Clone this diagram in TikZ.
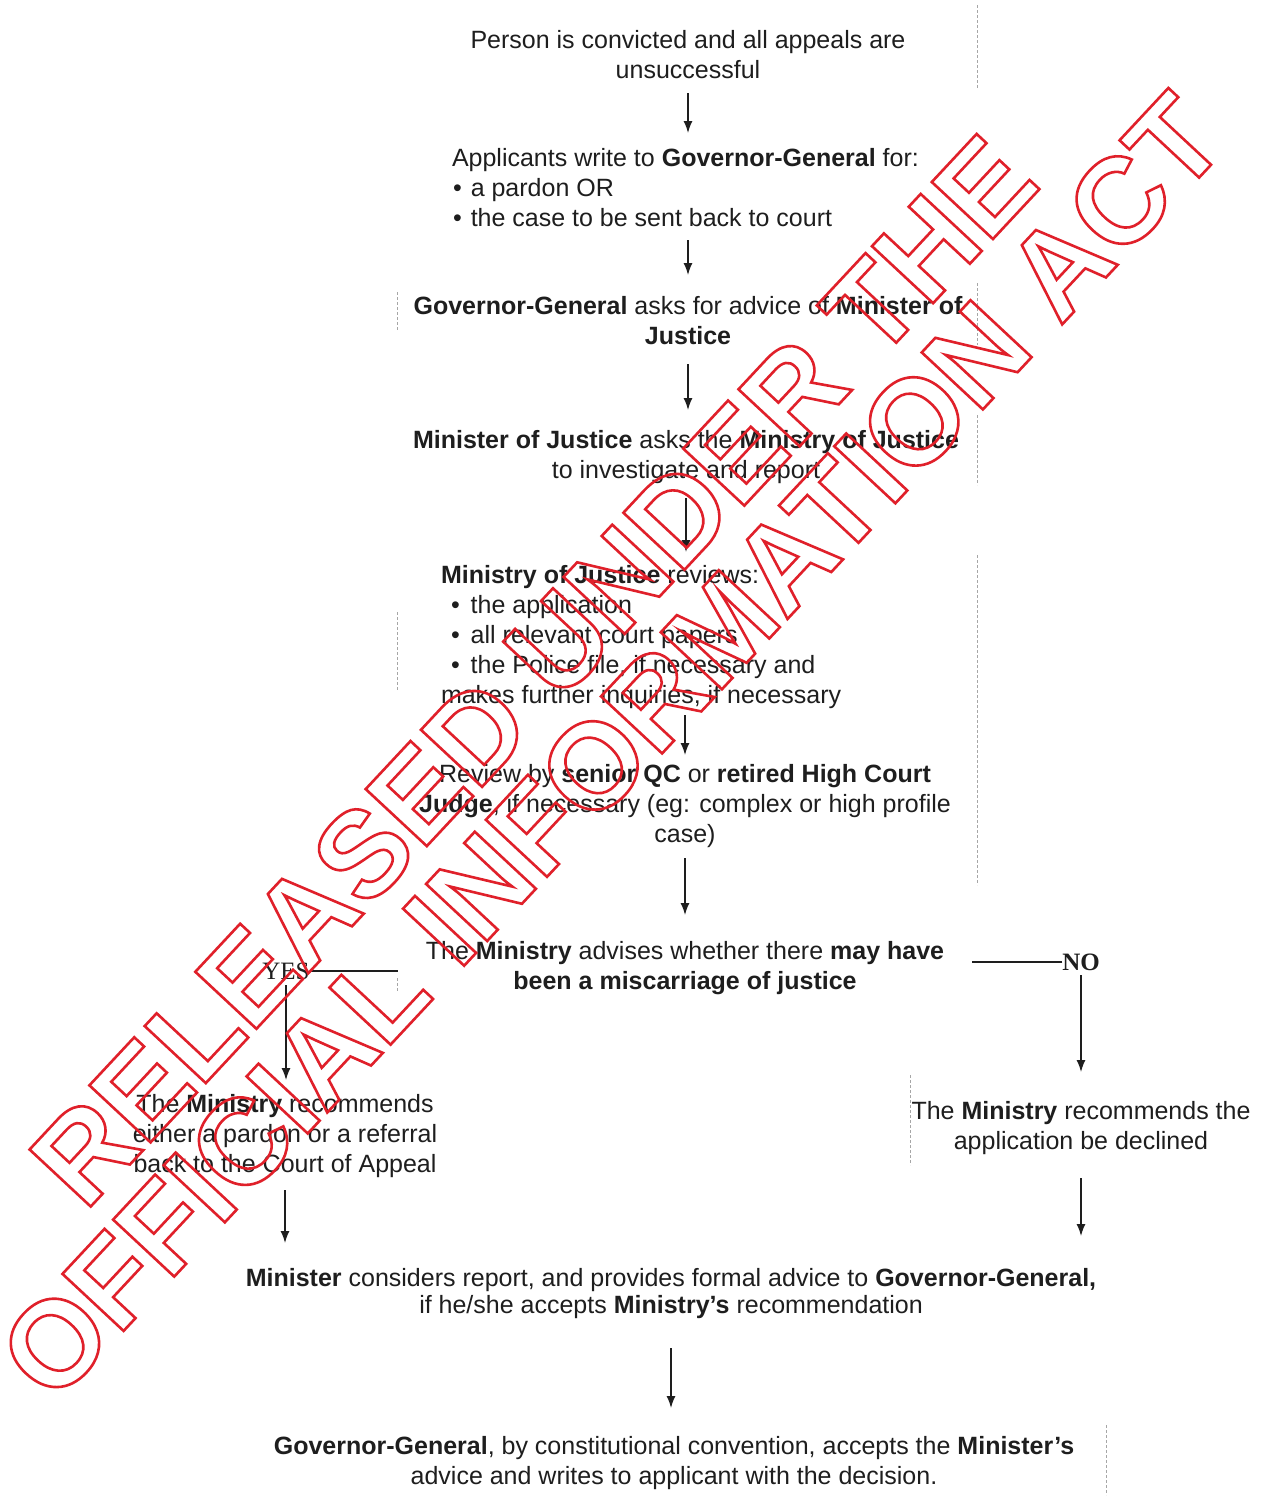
\documentclass[tikz,border=0pt]{standalone}
\usepackage{fontspec}
\setmainfont{Liberation Sans}
\newfontfamily\ynfont{Liberation Serif}
\usetikzlibrary{arrows.meta}
\definecolor{ink}{HTML}{1E1E1E}
\definecolor{stampred}{HTML}{E0202A}
\newcommand{\outlinetext}[1]{\special{pdf:literal direct 1 Tr 2.6 w}#1\special{pdf:literal direct 0 Tr}}
\begin{document}
\begin{tikzpicture}[x=1pt,y=-1pt,
  txt/.style={inner sep=0pt, outer sep=0pt, text=ink, font=\fontsize{25}{30}\selectfont},
  ctr/.style={txt, align=center, anchor=north},
  lft/.style={txt, align=left, anchor=north west},
  arr/.style={draw=ink, line width=1.4pt, -{Latex[length=12pt,width=9pt]}},
  lnk/.style={draw=ink, line width=1.2pt},
  scan/.style={draw=gray!70, line width=0.8pt, dash pattern=on 3pt off 2pt},
  stamp/.style={anchor=base, rotate=47, inner sep=0pt, text=stampred, font=\fontsize{121.5}{121.5}\selectfont\bfseries}
]
\useasboundingbox (0,0) rectangle (1271,1505);
\fill[white] (0,0) rectangle (1271,1505);

% scan remnants
\draw[scan] (977,5) -- (977,88);
\draw[scan] (977,283) -- (977,345);
\draw[scan] (977,415) -- (977,485);
\draw[scan] (977,555) -- (977,885);
\draw[scan] (397,292) -- (397,330);
\draw[scan] (397,612) -- (397,690);
\draw[scan] (397,978) -- (397,992);
\draw[scan] (910,1075) -- (910,1165);
\draw[scan] (1106,1425) -- (1106,1495);

% nodes
\node[ctr] (n1) at (688,27) {\strut Person is convicted and all appeals are\\unsuccessful\strut};
\node[lft] (n2) at (452,145) {\strut Applicants write to \textbf{Governor-General} for:\\
  \hspace*{1pt}•\hspace{9pt}a pardon OR\\
  \hspace*{1pt}•\hspace{9pt}the case to be sent back to court\strut};
\node[ctr] (n3) at (688,293) {\strut\textbf{Governor-General} asks for advice of \textbf{Minister of}\\\textbf{Justice}\strut};
\node[ctr] (n4) at (686,427) {\strut\textbf{Minister of Justice} asks the \textbf{Ministry of Justice}\\to investigate and report\strut};
\node[lft] (n5) at (441,562) {\strut\textbf{Ministry of Justice} reviews:\\
  \hspace*{10pt}•\hspace{11pt}the application\\
  \hspace*{10pt}•\hspace{11pt}all relevant court papers\\
  \hspace*{10pt}•\hspace{11pt}the Police file, if necessary and\\
  makes further inquiries, if necessary\strut};
\node[ctr] (n6) at (685,761) {\strut Review by \textbf{senior QC} or \textbf{retired High Court}\\\textbf{Judge}, if necessary (eg: complex or high profile\\case)\strut};
\node[ctr] (n7) at (685,938) {\strut The \textbf{Ministry} advises whether there \textbf{may have}\\\textbf{been a miscarriage of justice}\strut};
\node[txt, font=\fontsize{25}{30}\selectfont\ynfont] (yes) at (286,971) {YES};
\node[txt, font=\fontsize{25}{30}\selectfont\ynfont\bfseries] (no) at (1081,962) {NO};
\node[ctr] (n8l) at (285,1091) {\strut The \textbf{Ministry} recommends\\either a pardon or a referral\\back to the Court of Appeal\strut};
\node[ctr] (n8r) at (1081,1098) {\strut The \textbf{Ministry} recommends the\\application be declined\strut};
\node[ctr, font=\fontsize{25}{27}\selectfont] (n9) at (671,1268) {\strut\textbf{Minister} considers report, and provides formal advice to \textbf{Governor-General,}\\if he/she accepts \textbf{Ministry’s} recommendation\strut};
\node[ctr] (n10) at (674,1433) {\strut\textbf{Governor-General}, by constitutional convention, accepts the \textbf{Minister’s}\\advice and writes to applicant with the decision.\strut};

% connectors
\draw[arr, shorten <=6pt, shorten >=12pt] (n1.south) -- (n1.south |- n2.north);
\draw[arr, shorten <=5pt, shorten >=18pt] (n2.south -| n3.north) -- (n3.north);
\draw[arr, shorten <=11pt, shorten >=17pt] (n3.south) -- (n3.south |- n4.north);
\draw[arr, shorten <=11pt, shorten >=10pt] (n4.south) -- (n4.south |- n5.north);
\draw[arr, shorten <=3pt, shorten >=6pt] (n6.north |- n5.south) -- (n6.north);
\draw[arr, shorten <=7pt, shorten >=23pt] (n6.south) -- (n6.south |- n7.north);
\draw[lnk, shorten >=28pt] (yes.east) -- (yes.east -| n7.west);
\draw[arr, shorten <=6pt, shorten >=11pt] (yes.south) -- (yes.south |- n8l.north);
\draw[lnk, shorten >=28pt] (no.west) -- (no.west -| n7.east);
\draw[arr, shorten <=5pt, shorten >=26pt] (no.south) -- (no.south |- n8r.north);
\draw[arr, shorten <=9pt, shorten >=25pt] (n8l.south) -- (n8l.south |- n9.north);
\draw[arr, shorten <=20pt, shorten >=32pt] (n8r.south) -- (n8r.south |- n9.north);
\draw[arr, shorten <=26pt, shorten >=25pt] (n9.south) -- (n9.south |- n10.north);

% stamp
\node[stamp] (stamp1) at (564,699) {\outlinetext{RELEASED UNDER THE}};
\node[stamp] (stamp2) at (642,775) {\outlinetext{OFFICIAL INFORMATION ACT}};
\end{tikzpicture}
\end{document}
